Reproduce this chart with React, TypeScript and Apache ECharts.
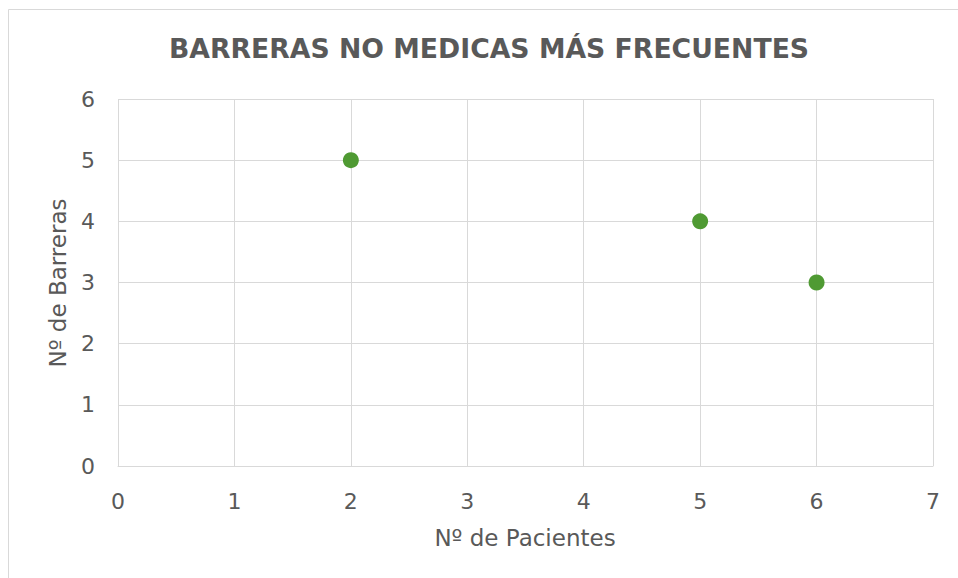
import React, { useEffect, useRef } from "react";
import * as echarts from "echarts";

const pacientes = [2, 5, 6];
const barreras = [5, 4, 3];
const title = "BARRERAS NO MEDICAS MÁS FRECUENTES";
const xName = "Nº de Pacientes";
const yName = "Nº de Barreras";

export default function App() {
  const ref = useRef<HTMLDivElement>(null);
  useEffect(() => {
    document.body.style.margin = "0";
    const chart = echarts.init(ref.current!, null, { renderer: "svg" });
    const font = "DejaVu Sans";
    chart.setOption({
      animation: false,
      textStyle: { fontFamily: font },
      graphic: [
        {
          type: "rect",
          shape: { x: 8.5, y: 9.5, width: 1200, height: 800 },
          style: { fill: "none", stroke: "#d9d9d9", lineWidth: 1 },
          silent: true,
        },
        {
          type: "text",
          x: 489,
          y: 48,
          style: {
            text: title,
            fontFamily: font,
            fontWeight: "bold",
            fontSize: 26.7,
            fill: "#595959",
            align: "center",
            verticalAlign: "middle",
          },
        },
        {
          type: "text",
          x: 525,
          y: 538,
          style: {
            text: xName,
            fontFamily: font,
            fontSize: 23,
            fill: "#595959",
            align: "center",
            verticalAlign: "middle",
          },
        },
        {
          type: "text",
          x: 58,
          y: 283,
          rotation: Math.PI / 2,
          style: {
            text: yName,
            fontFamily: font,
            fontSize: 23,
            fill: "#595959",
            align: "center",
            verticalAlign: "middle",
          },
        },
      ],
      grid: { left: 118, right: 25, top: 99, bottom: 112 },
      xAxis: {
        type: "value",
        min: 0,
        max: 7,
        interval: 1,
        axisLine: { show: true, lineStyle: { color: "#d9d9d9" } },
        axisTick: { show: false },
        axisLabel: { color: "#595959", fontSize: 22, margin: 24, fontFamily: font },
        splitLine: { show: true, lineStyle: { color: "#d9d9d9" } },
      },
      yAxis: {
        type: "value",
        min: 0,
        max: 6,
        interval: 1,
        axisLine: { show: false },
        axisTick: { show: false },
        axisLabel: { color: "#595959", fontSize: 22, margin: 23, fontFamily: font },
        splitLine: { show: true, lineStyle: { color: "#d9d9d9" } },
      },
      series: [
        {
          type: "scatter",
          data: pacientes.map((p, i) => [p, barreras[i]]),
          symbolSize: 16,
          itemStyle: { color: "#4f9a33", opacity: 1 },
        },
      ],
    });
    return () => chart.dispose();
  }, []);
  return <div ref={ref} style={{ width: 958, height: 578 }} />;
}
